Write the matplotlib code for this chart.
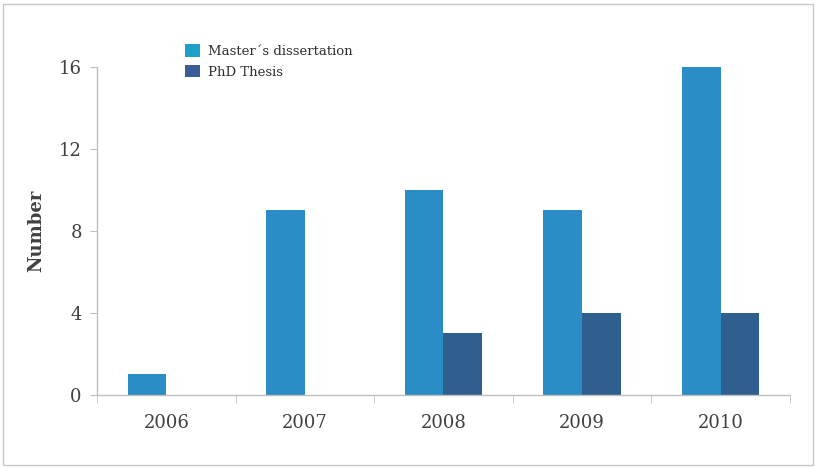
import numpy as np
import matplotlib.pyplot as plt
from matplotlib.patches import Rectangle, Patch

years = ['2006', '2007', '2008', '2009', '2010']
masters = [1, 9, 10, 9, 16]
phd = [0, 0, 3, 4, 4]

c_master = '#2b8dc6'
c_phd = '#2f5f8f'
grey_txt = '#404040'
axis_grey = '#c0c0c0'

plt.rcParams['font.family'] = 'DejaVu Serif'

fig = plt.figure(figsize=(8.16, 4.68), dpi=100)
ax = fig.add_axes([0.119, 0.156, 0.849, 0.701])

x = np.arange(len(years))
w = 0.28
ax.bar(x - w/2, masters, w, color=c_master, linewidth=0)
ax.bar(x + w/2, phd, w, color=c_phd, linewidth=0)

ax.set_xlim(-0.5, len(years) - 0.5)
ax.set_ylim(0, 16)
ax.set_yticks([0, 4, 8, 12, 16])
ax.set_xticks(x)
ax.set_xticklabels(years)
ax.set_xticks(np.arange(-0.5, len(years)), minor=True)
ax.tick_params(axis='x', which='major', length=0, pad=14, labelsize=13, labelcolor=grey_txt)
ax.tick_params(axis='x', which='minor', length=6, color=axis_grey, direction='out')
ax.tick_params(axis='y', length=5, color=axis_grey, pad=6, labelsize=13, labelcolor=grey_txt)

for s in ['top', 'right']:
    ax.spines[s].set_visible(False)
for s in ['left', 'bottom']:
    ax.spines[s].set_color(axis_grey)
    ax.spines[s].set_linewidth(1.0)

ax.set_ylabel('Number', fontsize=13, fontweight='bold', color=grey_txt, labelpad=10)

handles = [Patch(facecolor='#1fa0c8', edgecolor='none'),
           Patch(facecolor='#3a5d97', edgecolor='none')]
ax.legend(handles, ['Master´s dissertation', 'PhD Thesis'], loc='upper left',
          bbox_to_anchor=(0.11, 1.105), frameon=False, fontsize=9.5,
          handlelength=1.1, handleheight=1.1, handletextpad=0.6, labelspacing=0.5,
          labelcolor='#303030')

# light border round the whole figure
fig.patches.append(Rectangle((3/816, 3/468), 810/816, 461/468, transform=fig.transFigure,
                             fill=False, edgecolor='#c8c8c8', linewidth=1.0))

fig.savefig('out.png', dpi=100)
